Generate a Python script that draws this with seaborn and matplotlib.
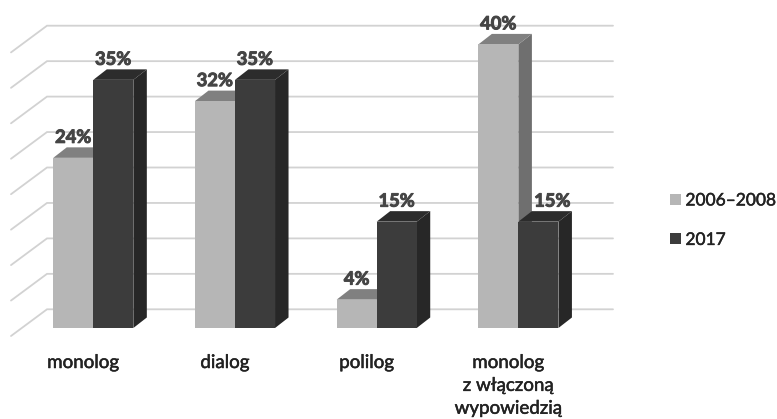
import matplotlib
matplotlib.use("Agg")
import matplotlib.pyplot as plt
import matplotlib.patches as mpatches
import matplotlib.patheffects as pe
import pandas as pd
import seaborn as sns

categories = ["monolog", "dialog", "polilog", "monolog\nz włączoną\nwypowiedzią"]
series_names = ["2006–2008", "2017"]
values_2006 = [24, 32, 4, 40]
values_2017 = [35, 35, 15, 15]
wall_ticks = [0, 5, 10, 15, 20, 25, 30, 35, 40]

front_colors = ["#b6b6b6", "#3c3c3c"]
side_colors = ["#6f6f6f", "#272727"]
top_colors = ["#808080", "#2c2c2c"]
grid_color = "#d2d2d2"
label_color = "#454545"
caption_color = "#222222"

W, H = 777, 419
DPI = 100
PX_PER_PCT = 7.09
PX_PER_CAT = 141.7

sns.set_theme(style="white")
plt.rcParams["font.family"] = ["Lato", "DejaVu Sans"]

fig = plt.figure(figsize=(W / DPI, H / DPI), dpi=DPI)
ax = fig.add_axes([0, 0, 1, 1])

frame = pd.DataFrame({
    "kategoria": categories * 2,
    "okres": [series_names[0]] * 4 + [series_names[1]] * 4,
    "udzial": values_2006 + values_2017,
})
sns.barplot(data=frame, x="kategoria", y="udzial", hue="okres",
            palette=front_colors, saturation=1, width=0.565, gap=0,
            linewidth=0, edgecolor="none", legend=False, ax=ax, zorder=3)

# Axes fill the figure; the baseline sits 91 px above the bottom edge.
ax.set_xlim(-93.3 / PX_PER_CAT, (W - 93.3) / PX_PER_CAT)
ax.set_ylim(-(H - 328) / PX_PER_PCT, 328 / PX_PER_PCT)
for s in ax.spines.values():
    s.set_visible(False)
ax.patch.set_alpha(0)
ax.set_xlabel("")
ax.set_ylabel("")
ax.set_yticks([])
ax.set_xticks([])

thicken = [pe.withStroke(linewidth=0.35, foreground=caption_color)]

# Category captions hang below the baseline, slightly left of each group
for pos, name in enumerate(categories):
    ax.annotate(name, xy=(pos, 0), xytext=(-10 * 0.72, -26 * 0.72),
                textcoords="offset points", ha="center", va="top",
                fontsize=13.5, color=caption_color, linespacing=1.42,
                path_effects=thicken)

# Back wall and left wall of the pseudo-3D box
wall_x0 = (47 - 93.3) / PX_PER_CAT
wall_x1 = (613 - 93.3) / PX_PER_CAT
side_x = (11 - 93.3) / PX_PER_CAT
wall_rise = 18.7 / PX_PER_PCT
side_drop = 8.0 / PX_PER_PCT
for v in wall_ticks:
    ax.plot([side_x, wall_x0, wall_x1],
            [v - side_drop, v + wall_rise, v + wall_rise],
            color=grid_color, lw=1.3, zorder=1, solid_capstyle="round", solid_joinstyle="miter")

# Depth faces on each bar
depth_x = 13.5 / PX_PER_CAT
depth_y = 10.5 / PX_PER_PCT
for i, container in enumerate(ax.containers):
    base_z = 2 + i * 2
    for j, bar in enumerate(container.patches):
        x0, x1 = bar.get_x(), bar.get_x() + bar.get_width()
        h = bar.get_height()
        ax.add_patch(mpatches.Polygon(
            [(x1, 0), (x1 + depth_x, depth_y), (x1 + depth_x, h + depth_y), (x1, h)],
            closed=True, fc=side_colors[i], ec="none", zorder=base_z))
        ax.add_patch(mpatches.Polygon(
            [(x0, h), (x0 + depth_x, h + depth_y), (x1 + depth_x, h + depth_y), (x1, h)],
            closed=True, fc=top_colors[i], ec="none", zorder=base_z))
        bar.set_zorder(base_z + 0.5)
        # The last 2017 label moves right, clear of the tall neighbouring bar
        shift = 14 if (i == 1 and j == 3) else 0
        ax.annotate(f"{h:.0f}%", xy=(x0 + bar.get_width() / 2, h),
                    xytext=(shift * 0.72, 20.5 * 0.72), textcoords="offset points",
                    ha="center", va="center", fontsize=13.2, fontweight="bold",
                    color=label_color, zorder=10,
                    path_effects=[pe.withStroke(linewidth=0.7, foreground=label_color)])

handles = [mpatches.Patch(fc=c, ec="none", label=n) for c, n in zip(front_colors, series_names)]
legend = ax.legend(handles=handles, loc="upper left", bbox_to_anchor=(666.5 / W, 1 - 189 / H),
                   bbox_transform=fig.transFigure, frameon=False, fontsize=12.5,
                   handlelength=0.62, handleheight=0.62, handletextpad=0.27,
                   labelspacing=1.35, labelcolor=caption_color, borderpad=0.2, borderaxespad=0)
for text in legend.get_texts():
    text.set_path_effects(thicken)

fig.savefig("out.png", dpi=DPI, facecolor="white")
